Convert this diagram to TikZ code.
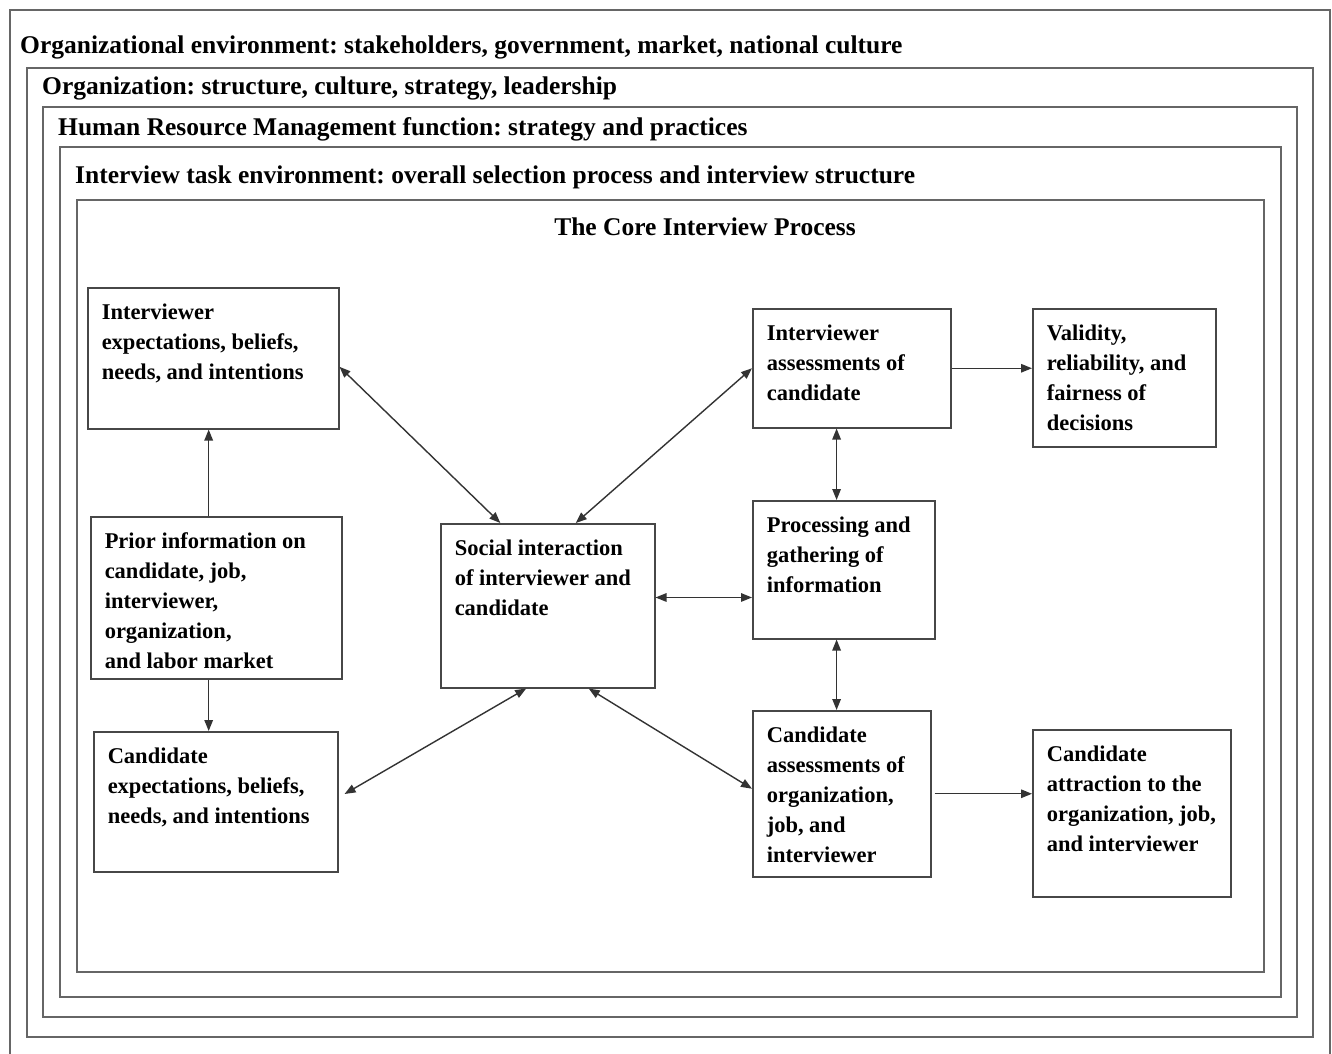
\documentclass[tikz,border=0pt]{standalone}
\usepackage{fontspec}
\setmainfont{Liberation Serif}
\frenchspacing
\usetikzlibrary{arrows.meta,calc}
\tikzset{
 frame/.style={draw=black!60, line width=1.6pt},
 title/.style={anchor=base west, inner sep=0pt, font=\fontsize{25.5}{30}\selectfont\bfseries},
 box/.style={draw=black!72, line width=1.5pt, anchor=north west, inner sep=0pt, font=\fontsize{22.5}{30}\selectfont\bfseries},
 link/.style={draw=black!80, line width=1.4pt},
 two/.style={link, {Triangle[length=11pt,width=8.5pt]}-{Triangle[length=11pt,width=8.5pt]}},
 one/.style={link, -{Triangle[length=11pt,width=8.5pt]}},
}
\newcommand{\boxnode}[6]{%
 \node[box, minimum width=#4pt, minimum height=#5pt] (#1) at (#2,#3) {\parbox[c][#5pt][t]{#4pt}{\raggedright\leftskip=14pt\rule{0pt}{32pt}#6}};
}
\begin{document}
\begin{tikzpicture}[x=1pt,y=-1pt]
\useasboundingbox (0,0) rectangle (1332,1053);
\fill[white] (0,0) rectangle (1332,1053);
% frames
\draw[frame] (10,1060) -- (10,10) -- (1330,10) -- (1330,1060);
\draw[frame] (27,68) rectangle (1313,1037);
\draw[frame] (43,107) rectangle (1297,1017);
\draw[frame] (60,147) rectangle (1281,997);
\draw[frame] (77,200) rectangle (1264,972);
% titles
\node[title] (t1) at (20,53) {Organizational environment: stakeholders, government, market, national culture};
\node[title] (t2) at (42,94) {Organization: structure, culture, strategy, leadership};
\node[title] (t3) at (58,135) {Human Resource Management function: strategy and practices};
\node[title] (t4) at (75,183) {Interview task environment: overall selection process and interview structure};
\node[title, anchor=base] (t5) at (705,235) {The Core Interview Process};
% boxes
\boxnode{IE}{87}{287}{251}{141}{Interviewer\\expectations, beliefs,\\needs, and intentions}
\boxnode{PI}{90}{516}{251}{162}{Prior information on\\candidate, job,\\interviewer,\\organization,\\and labor market}
\boxnode{CE}{93}{731}{244}{140}{Candidate\\expectations, beliefs,\\needs, and intentions}
\boxnode{SI}{440}{523}{214}{164}{Social interaction\\of interviewer and\\candidate}
\boxnode{IA}{752}{308}{198}{119}{Interviewer\\assessments of\\candidate}
\boxnode{VR}{1032}{308}{183}{138}{Validity,\\reliability, and\\fairness of\\decisions}
\boxnode{PG}{752}{500}{182}{138}{Processing and\\gathering of\\information}
\boxnode{CA}{752}{710}{178}{166}{Candidate\\assessments of\\organization,\\job, and\\interviewer}
\boxnode{AT}{1032}{729}{198}{167}{Candidate\\attraction to the\\organization, job,\\and interviewer}
% connectors
\draw[two] ($(IE.north east)!0.56!(IE.south east)$) -- ($(SI.north west)!0.28!(SI.north east)$);
\draw[two] (IA.west) -- ($(SI.north west)!0.63!(SI.north east)$);
\draw[two] ($(SI.north east)!0.45!(SI.south east)$) coordinate (h1) -- (h1 -| PG.west);
\draw[two] ($(IA.south west)!0.424!(IA.south east)$) coordinate (v1) -- (v1 |- PG.north);
\draw[two] (v1 |- PG.south) -- (v1 |- CA.north);
\draw[one] (IA.east) -- (IA.east -| VR.west);
\draw[one] ([xshift=3pt]CA.east) -- (CA.east -| AT.west);
\draw[one] ($(PI.north west)!0.47!(PI.north east)$) coordinate (v2) -- (v2 |- IE.south);
\draw[one] (v2 |- PI.south) -- (v2 |- CE.north);
\draw[two, shorten >=7pt] ($(SI.south west)!0.40!(SI.south east)$) -- ($(CE.north east)!0.47!(CE.south east)$);
\draw[two] ($(SI.south west)!0.69!(SI.south east)$) -- ($(CA.north west)!0.47!(CA.south west)$);
\end{tikzpicture}
\end{document}
